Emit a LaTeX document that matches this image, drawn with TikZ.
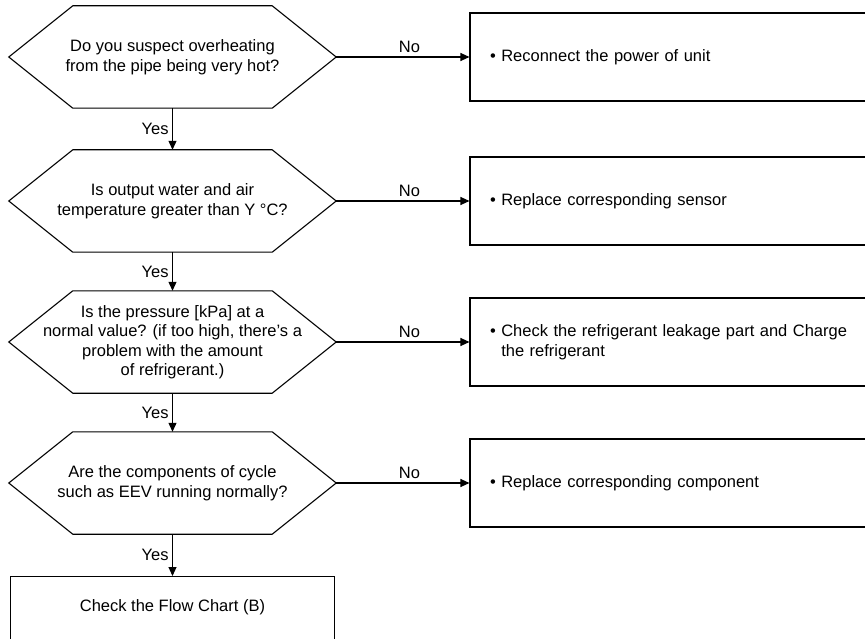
\documentclass[tikz,border=0pt]{standalone}
\usepackage{fontspec}
\setmainfont{Liberation Sans}
\usetikzlibrary{arrows.meta}
\begin{document}
\begin{tikzpicture}[x=1pt,y=-1pt,
every node/.style={font=\fontsize{16.5}{19.5}\selectfont},
question/.style={minimum width=327pt,minimum height=102pt,
inner sep=0pt,align=center},
action/.style={draw,line width=1.1pt,minimum height=88pt,
inner xsep=20pt,text width=380pt,align=left},
flow/.style={line width=1.1pt,-{Triangle[length=9pt,width=8pt]}}]

\clip (0,0) rectangle (865,639);

%=================================================
% LEFT COLUMN
%=================================================

% overheating

\node[question] (q1)
at (172.5,57)
{Do you suspect overheating\\from the pipe being very hot?};

% output temperature

\node[question] (q2)
at (172.5,201)
{Is output water and air\\temperature greater than Y °C?};

% pressure

\node[question] (q3)
at (172.5,342)
{Is the pressure [kPa] at a\\normal value? (if too high, there's a\\problem with the amount\\of refrigerant.)};

% cycle components

\node[question] (q4)
at (172.5,483)
{Are the components of cycle\\such as EEV running normally?};

% hexagon outlines

\foreach \n in {q1,q2,q3,q4}
{
\draw[line width=1.1pt]
(\n.west)--([xshift=64pt]\n.north west)--([xshift=-64pt]\n.north east)
--(\n.east)--([xshift=-64pt]\n.south east)--([xshift=64pt]\n.south west)--cycle;
}

% flow chart B

\node[draw,line width=1.1pt,anchor=north,minimum width=324pt,
inner ysep=0pt,text height=35pt,text depth=60pt] (chart)
at (172.5,576)
{Check the Flow Chart (B)};

%=================================================
% RIGHT COLUMN
%=================================================

\node[action] (a1)
at (680,57)
{\textbullet\ Reconnect the power of unit};

\node[action] (a2)
at (680,201)
{\textbullet\ Replace corresponding sensor};

\node[action] (a3)
at (680,342)
{\textbullet\ Check the refrigerant leakage part and Charge\\
\phantom{\textbullet\ }the refrigerant};

\node[action] (a4)
at (680,483)
{\textbullet\ Replace corresponding component};

%=================================================
% ARROWS
%=================================================

\foreach \n in {1,2,3,4}
{
\draw[flow]
(q\n.east)--node[above,pos=0.55]{No}(a\n.west);
}

\foreach \n/\m in {q1/q2,q2/q3,q3/q4,q4/chart}
{
\draw[flow]
(\n.south)--node[left,midway]{Yes}(\m.north);
}

\end{tikzpicture}
\end{document}
